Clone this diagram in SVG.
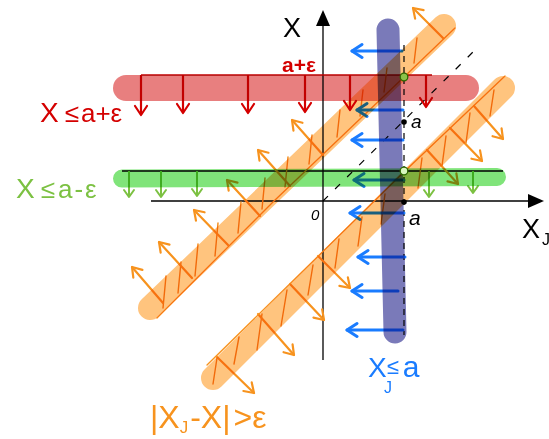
<svg xmlns="http://www.w3.org/2000/svg" width="549" height="439" viewBox="0 0 549 439">
<defs>
<style>
.band{fill:none;stroke-linecap:round;mix-blend-mode:multiply}
.ax{stroke:#000;stroke-width:1.3;fill:none}
.thin{fill:none;stroke:#f7931e;stroke-width:1.3;stroke-linecap:round}
.hat{fill:none;stroke:#f28a14;stroke-width:1.4;stroke-linecap:round}
.ao{stroke:#f7931e;stroke-width:2.2;fill:none;stroke-linecap:round;marker-end:url(#mo)}
.ar{stroke:#d40000;stroke-width:2.2;fill:none;marker-end:url(#mr)}
.ag{stroke:#7cc142;stroke-width:2;fill:none;marker-end:url(#mg)}
.ab{stroke:#1a7cff;stroke-width:3;fill:none;stroke-linecap:round;marker-end:url(#mb)}
text{font-family:"Liberation Sans",Arial,sans-serif}
</style>
<marker id="mo" viewBox="-12 -9 14 18" refX="0" refY="0" markerWidth="14" markerHeight="18" orient="auto" markerUnits="userSpaceOnUse"><path d="M-9,-6 L0,0 L-9,6" fill="none" stroke="#f7931e" stroke-width="2.2" stroke-linecap="round" stroke-linejoin="round"/></marker>
<marker id="mr" viewBox="-12 -9 14 18" refX="0" refY="0" markerWidth="14" markerHeight="18" orient="auto" markerUnits="userSpaceOnUse"><path d="M-9,-6 L0,0 L-9,6" fill="none" stroke="#d40000" stroke-width="2.2" stroke-linecap="round" stroke-linejoin="round"/></marker>
<marker id="mg" viewBox="-12 -9 14 18" refX="0" refY="0" markerWidth="14" markerHeight="18" orient="auto" markerUnits="userSpaceOnUse"><path d="M-7,-5 L0,0 L-7,5" fill="none" stroke="#7cc142" stroke-width="2" stroke-linecap="round" stroke-linejoin="round"/></marker>
<marker id="mb" viewBox="-14 -10 16 20" refX="0" refY="0" markerWidth="16" markerHeight="20" orient="auto" markerUnits="userSpaceOnUse"><path d="M-10,-6.5 L0,0 L-10,6.5" fill="none" stroke="#1a7cff" stroke-width="3" stroke-linecap="round" stroke-linejoin="round"/></marker>
</defs>
<rect width="549" height="439" fill="#fff"/>

<g id="axes">
<line class="ax" x1="151" y1="201" x2="532" y2="201"/>
<polygon points="544,201 528,194 528,208" fill="#000"/>
<line class="ax" x1="323" y1="360" x2="323" y2="24"/>
<polygon points="323,10 316,26 330,26" fill="#000"/>
<line x1="323" y1="201" x2="475" y2="50" stroke="#000" stroke-width="1.2" stroke-dasharray="7 10"/>
<line x1="404" y1="45" x2="404" y2="335" stroke="#000" stroke-width="1.2" stroke-dasharray="6 5"/>
<line x1="141" y1="75" x2="432" y2="75" stroke="#c00000" stroke-width="1.5"/>
<line x1="122" y1="171" x2="503" y2="171" stroke="#000" stroke-width="1.5"/>
</g>

<g id="orange-lines">
<polyline class="thin" points="157,318 274,201 404,77 455,28"/>
<polyline class="thin" points="207,365 405,171 505,76"/>
<path class="hat" d="M163,308 L166,276 M178,293 L181,262 M195,276 L198,244 M215,256 L218,223 M238,233 L241,202 M262,209 L265,178 M285,187 L288,157 M309,164 L312,135 M337,137 L340,110 M360,116 L363,90 M384,92 L387,68 M414,63 L417,38"/>
<path class="hat" d="M217,358 L213,384 M239,337 L234,364 M262,314 L257,350 M287,290 L281,326 M313,265 L308,295 M339,239 L335,268 M362,217 L358,246 M385,194 L381,224 M422,158 L418,188 M446,136 L442,166 M470,113 L466,143 M494,90 L490,116"/>
</g>

<g id="connectors">
<line class="ao" x1="443" y1="38" x2="413" y2="8"/>
<line class="ao" x1="323" y1="155" x2="292" y2="120"/>
<line class="ao" x1="290" y1="186" x2="258" y2="150"/>
<line class="ao" x1="260" y1="216" x2="227" y2="180"/>
<line class="ao" x1="228" y1="245" x2="194" y2="210"/>
<line class="ao" x1="192" y1="278" x2="159" y2="242"/>
<line class="ao" x1="163" y1="303" x2="132" y2="267"/>
<line class="ao" x1="474" y1="106" x2="503" y2="139"/>
<line class="ao" x1="450" y1="128" x2="482" y2="161"/>
<line class="ao" x1="427" y1="150" x2="458" y2="184"/>
<line class="ao" x1="318" y1="256" x2="350" y2="288"/>
<line class="ao" x1="290" y1="284" x2="324" y2="320"/>
<line class="ao" x1="258" y1="314" x2="294" y2="355"/>
<line class="ao" x1="217" y1="357" x2="254" y2="393"/>

<line class="ar" x1="141" y1="75" x2="141" y2="115"/>
<line class="ar" x1="183" y1="75" x2="183" y2="113"/>
<line class="ar" x1="248" y1="75" x2="248" y2="113"/>
<line class="ar" x1="305" y1="75" x2="305" y2="112"/>
<line class="ar" x1="350" y1="75" x2="350" y2="110"/>
<line class="ar" x1="426" y1="75" x2="426" y2="107"/>

<line class="ag" x1="129" y1="171" x2="129" y2="197"/>
<line class="ag" x1="161" y1="171" x2="161" y2="197"/>
<line class="ag" x1="197" y1="171" x2="197" y2="196"/>
<line class="ag" x1="429" y1="171" x2="429" y2="197"/>
<line class="ag" x1="473" y1="171" x2="473" y2="193"/>

<line class="ab" x1="402" y1="51" x2="352" y2="51"/>
<line class="ab" x1="403" y1="110" x2="357" y2="110"/>
<line class="ab" x1="403" y1="140" x2="352" y2="140"/>
<line class="ab" x1="404" y1="180" x2="354" y2="180"/>
<line class="ab" x1="404" y1="213" x2="350" y2="213"/>
<line class="ab" x1="405" y1="257" x2="358" y2="257"/>
<line class="ab" x1="398" y1="291" x2="352" y2="291"/>
<line class="ab" x1="403" y1="330" x2="347" y2="330"/>
</g>

<g id="bands">
<line id="band-upper" class="band" x1="150" y1="308" x2="444" y2="26" stroke="#ffc47e" stroke-width="24"/>
<line id="band-lower" class="band" x1="213" y1="378" x2="503" y2="88" stroke="#ffc47e" stroke-width="24"/>
<line id="band-red" class="band" x1="126" y1="88" x2="466" y2="88" stroke="#e87f7f" stroke-width="26"/>
<line id="band-green" class="band" x1="122" y1="178.5" x2="497" y2="177" stroke="#80e47a" stroke-width="18"/>
<line id="band-purple" class="band" x1="388" y1="30" x2="395" y2="332" stroke="#7a7ab9" stroke-width="23"/>
</g>

<g id="points">
<circle cx="404" cy="122" r="2.8" fill="#000"/>
<circle cx="404" cy="202" r="2.8" fill="#000"/>
<circle cx="404" cy="77" r="3.8" fill="#8bc34a" stroke="#2d6a00" stroke-width="1.3"/>
<circle cx="404" cy="171" r="3.8" fill="#d9f7c0" stroke="#2d6a00" stroke-width="1.3"/>
</g>

<g id="labels">
<text x="283" y="37" font-size="27" fill="#000">X</text>
<text x="522" y="238" font-size="27" fill="#000">X</text>
<text x="542" y="245" font-size="16" fill="#000">J</text>
<text x="311" y="220" font-size="15" font-style="italic" fill="#000">0</text>
<text x="409" y="225" font-size="21" font-style="italic" fill="#000">a</text>
<text x="411" y="128" font-size="19" font-style="italic" fill="#000">a</text>
<text x="282" y="72" font-size="21" font-weight="bold" fill="#d40000">a+ε</text>
<text x="40" y="122" font-size="28" fill="#d40000">X<tspan font-size="26" dx="6">≤</tspan><tspan font-size="26" dx="2">a+ε</tspan></text>
<text x="16" y="198" font-size="28" fill="#7cc142">X<tspan font-size="26" dx="6">≤</tspan><tspan font-size="26" dx="3" letter-spacing="2">a-ε</tspan></text>
<text x="368" y="377" font-size="28" fill="#1a7cff">X<tspan font-size="22" dx="0" dy="-3">≤</tspan><tspan font-size="30" dx="4" dy="3">a</tspan></text>
<text x="384" y="393" font-size="16" fill="#1a7cff">J</text>
<text x="150" y="428" font-size="32" fill="#f7931e">|X<tspan font-size="17" dy="5">J</tspan><tspan dy="-5" dx="2">-X|</tspan><tspan dx="3">&gt;ε</tspan></text>
</g>
</svg>
